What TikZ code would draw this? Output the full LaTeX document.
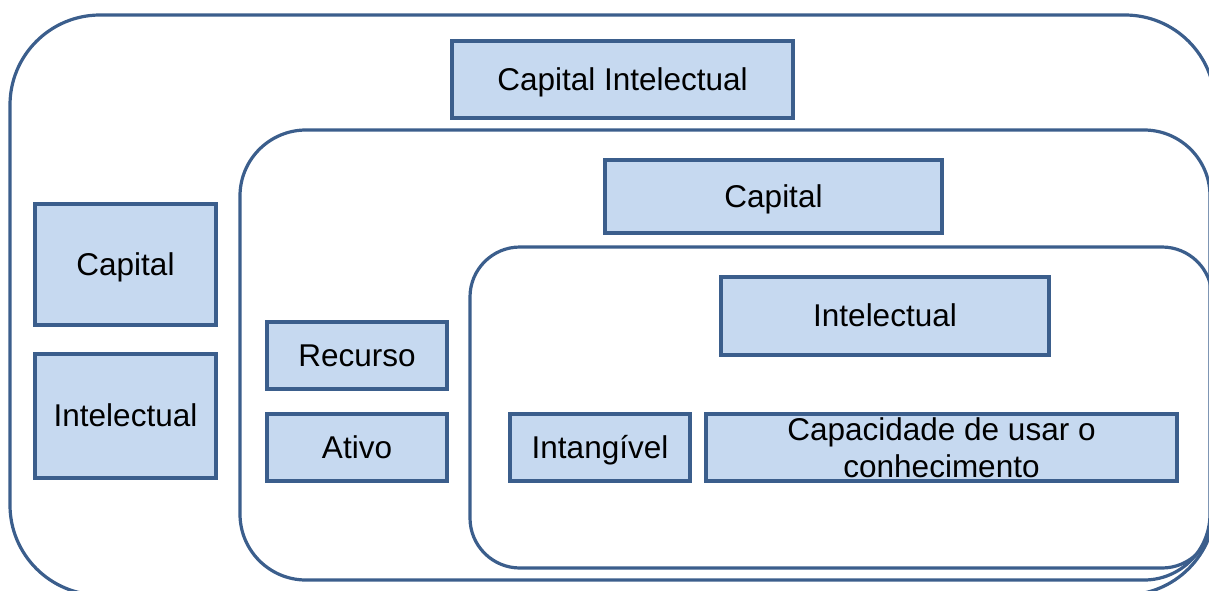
\documentclass[tikz,border=0pt]{standalone}
\usepackage{fontspec}
\setmainfont{Liberation Sans}
\usepackage{tikz}
\definecolor{framebluedark}{RGB}{59,94,140}
\definecolor{boxfill}{RGB}{198,217,240}
\tikzset{
  frame/.style={draw=framebluedark, line width=1.6pt},
  conceptbox/.style={draw=framebluedark, fill=boxfill, line width=1.6pt,
    rectangle, inner sep=0pt, align=center,
    font=\fontsize{15.75}{18.5}\selectfont},
  oneline/.style={conceptbox, text height=14.25pt, text depth=3.3pt}
}

\begin{document}
\begin{tikzpicture}[x=0.5pt,y=-0.5pt]
    \clip (0,0) rectangle (1209,590);

    % nested frames
    \draw[frame, rounded corners=45pt] (10,15)   rectangle (1215,595);
    \draw[frame, rounded corners=33pt] (240,130) rectangle (1210,580);
    \draw[frame, rounded corners=25pt] (470,247) rectangle (1212,568);

    \node[oneline, minimum width=170.5pt, minimum height=38.5pt] (ci)     at (622.5,79.5) {Capital Intelectual};
    \node[oneline, minimum width=90.5pt,  minimum height=60.5pt] (capl)   at (125.5,264.5) {Capital};
    \node[oneline, minimum width=90.5pt,  minimum height=62pt]   (intl)   at (125.5,416)   {Intelectual};
    \node[oneline, minimum width=168.5pt, minimum height=36.5pt] (capm)   at (773.5,196.5) {Capital};
    \node[oneline, minimum width=90pt,    minimum height=33.5pt] (rec)    at (357,355.5)   {Recurso};
    \node[oneline, minimum width=90pt,    minimum height=33.5pt] (ativo)  at (357,447.5)   {Ativo};
    \node[oneline, minimum width=164pt,   minimum height=39pt]   (inti)   at (885,316)     {Intelectual};
    \node[oneline, minimum width=90pt,    minimum height=33.5pt] (intang) at (600,447.5)   {Intangível};
    \node[conceptbox, minimum width=235.5pt, minimum height=33.5pt] (capac) at (941.5,447.5) {Capacidade de usar o\\conhecimento};
\end{tikzpicture}
\end{document}
